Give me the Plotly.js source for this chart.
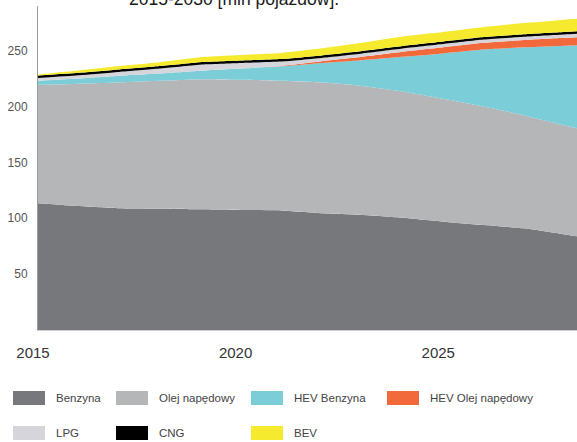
<!DOCTYPE html>
<html>
<head>
<meta charset="utf-8">
<script src="https://cdn.plot.ly/plotly-3.0.1.min.js"></script>
<style>html,body{margin:0;padding:0;background:#fff;}#chart{width:577px;height:442px;}</style>
</head>
<body>
<div id="chart"></div>
<script>
const years = [2015,2016,2017,2018,2019,2020,2021,2022,2023,2024,2025,2026,2027,2028,2029,2030];
const benzyna      = [113.5,111,109,108.5,108,107.5,107,104.5,103,100.5,97,94,91,85.5,80,75];
const olejNapedowy = [106,109.5,112.5,114.5,116.5,116.5,116,117,115.5,113,110,106,101,97.5,95,92];
const hevBenzyna   = [3.5,4.5,6,6.5,7.5,10,13,17.5,23,31,40.5,51,61,71.5,81,90];
const hevOlej      = [0,0,0,0,0,0,0.3,1.5,3,4.5,5.5,6,6.5,7,7.5,8];
const lpg          = [2.5,3,3.5,4.5,5.5,5,4,3,3,3,3,3,3,3,3,3];
const cng          = [2.2,2.2,2.2,2.2,2.2,2.2,2.2,2.2,2.2,2.2,2.2,2.2,2.2,2.2,2.2,2.2];
const bev          = [1,2,3,3.5,4.5,5,5.5,6.5,7.5,8.5,8.5,9,10,11,12,13];

const seriesNames  = ['Benzyna','Olej napędowy','HEV Benzyna','HEV Olej napędowy','LPG','CNG','BEV'];
const seriesValues = [benzyna, olejNapedowy, hevBenzyna, hevOlej, lpg, cng, bev];
const seriesColors = ['#76787b','#b5b6b8','#7bcdd8','#f26a3b','#d6d5db','#000000','#f6ea2e'];

const xTicks = [2015,2020,2025];
const yTicks = [50,100,150,200,250];
const titleText = '2015-2030 [mln pojazdów].';

const traces = seriesNames.map((n,i)=>({
  x: years, y: seriesValues[i], name: n, type:'scatter', mode:'none',
  stackgroup:'one', fillcolor: seriesColors[i], line:{shape:'spline', smoothing:0.5, width:0},
  showlegend:false, hoverinfo:'skip'
}));

// pixel geometry helpers for legend placement
const L=38, R=577, T=6, B=330;
const px = v => (v-L)/(R-L);
const py = v => (B-v)/(B-T);

const legendPos = [
  {sx:13, tx:54,  cy:398},
  {sx:116,tx:157, cy:398},
  {sx:251,tx:292, cy:398},
  {sx:387,tx:428, cy:398},
  {sx:13, tx:54,  cy:433},
  {sx:116,tx:157, cy:433},
  {sx:251,tx:292, cy:433}
];
const shapes = [], annotations = [];
seriesNames.forEach((n,i)=>{
  const p = legendPos[i];
  shapes.push({type:'rect', xref:'paper', yref:'paper', x0:px(p.sx), x1:px(p.sx+32),
    y0:py(p.cy+7), y1:py(p.cy-7), fillcolor:seriesColors[i], line:{width:0}});
  annotations.push({xref:'paper', yref:'paper', x:px(p.tx), y:py(p.cy), xanchor:'left', yanchor:'middle',
    text:n, showarrow:false, font:{family:'Liberation Sans, Arial, sans-serif', size:11.5, color:'#444'}});
});
annotations.push({xref:'paper', yref:'paper', x:px(127), y:py(0), xanchor:'left', yanchor:'middle', yshift:1,
  text:titleText, showarrow:false, font:{family:'Liberation Sans, Arial, sans-serif', size:17.5, color:'#1a1a1a'}});

const layout = {
  width:577, height:442,
  margin:{l:38, r:0, t:6, b:112, pad:0},
  paper_bgcolor:'#ffffff', plot_bgcolor:'#ffffff',
  showlegend:false,
  xaxis:{range:[2015, 2015+(577-38.3)/40.5], tickvals:xTicks, ticktext:xTicks.map(String),
    showgrid:false, zeroline:false, showline:true, linecolor:'#cfcfcf', linewidth:1,
    ticks:'', ticklabelstandoff:9, ticklabelshift:-5,
    tickfont:{family:'Liberation Sans, Arial, sans-serif', size:15, color:'#333'}, fixedrange:true},
  yaxis:{range:[0,290], tickvals:yTicks, ticktext:yTicks.map(String),
    showgrid:false, zeroline:false, showline:true, linecolor:'#9a9a9a', linewidth:1,
    ticks:'', ticklabelstandoff:7,
    tickfont:{family:'Liberation Sans, Arial, sans-serif', size:12, color:'#555'}, fixedrange:true},
  shapes: shapes,
  annotations: annotations
};

Plotly.newPlot('chart', traces, layout, {displayModeBar:false, staticPlot:true});
</script>
</body>
</html>
